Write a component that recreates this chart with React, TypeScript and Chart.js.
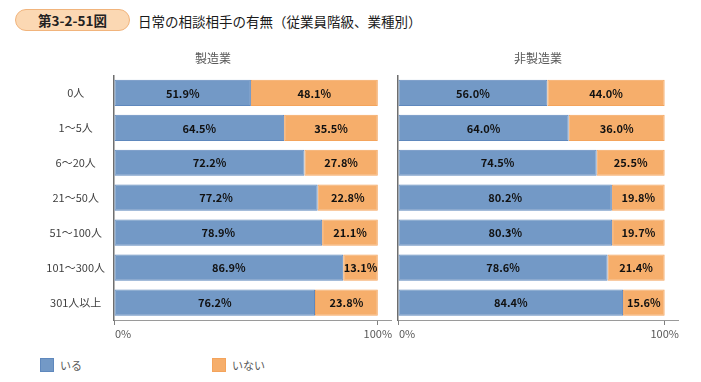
import React, { useEffect, useRef } from "react";
import { Chart, registerables } from "chart.js";

Chart.register(...registerables);

const FONT = "'Noto Sans CJK JP', 'Noto Sans', sans-serif";

const categories = ["0人", "1～5人", "6～20人", "21～50人", "51～100人", "101～300人", "301人以上"];
const seriesNames = ["いる", "いない"];
const seriesColors = ["#7399c6", "#f6ae6b"];
const seriesBorders = ["#5f88bd", "#f4a45c"];

const mfgYes = [51.9, 64.5, 72.2, 77.2, 78.9, 86.9, 76.2];
const mfgNo = [48.1, 35.5, 27.8, 22.8, 21.1, 13.1, 23.8];
const nonMfgYes = [56.0, 64.0, 74.5, 80.2, 80.3, 78.6, 84.4];
const nonMfgNo = [44.0, 36.0, 25.5, 19.8, 19.7, 21.4, 15.6];

const xTickValues = [0, 100];
const xTickLabels = ["0%", "100%"];

const panelTitles = ["製造業", "非製造業"];

const labelPlugin = {
  id: "segLabels",
  afterDatasetsDraw(chart: any) {
    const ctx = chart.ctx;
    ctx.save();
    ctx.font = `bold 11px ${FONT}`;
    ctx.fillStyle = "#111";
    ctx.textAlign = "center";
    ctx.textBaseline = "middle";
    chart.data.datasets.forEach((ds: any, di: number) => {
      const meta = chart.getDatasetMeta(di);
      meta.data.forEach((bar: any, i: number) => {
        const v = ds.data[i];
        const cx = (bar.x + bar.base) / 2;
        ctx.fillText(v.toFixed(1) + "%", cx, bar.y + 0.5);
      });
    });
    ctx.restore();
  },
};

const xLabelPlugin = {
  id: "xLabels",
  afterDraw(chart: any) {
    const ctx = chart.ctx;
    const xs = chart.scales.x;
    const bottom = chart.chartArea.bottom;
    ctx.save();
    ctx.font = `11px ${FONT}`;
    ctx.fillStyle = "#595959";
    ctx.textBaseline = "middle";
    xTickValues.forEach((v, i) => {
      const px = xs.getPixelForValue(v);
      if (i === 0) {
        ctx.textAlign = "left";
        ctx.fillText(xTickLabels[i], px + 1, bottom + 14);
      } else {
        ctx.textAlign = "center";
        ctx.fillText(xTickLabels[i], px, bottom + 14);
      }
    });
    ctx.restore();
  },
};

function makeConfig(yes: number[], no: number[], title: string, showY: boolean, padLeft: number, padRight: number): any {
  return {
    type: "bar",
    data: {
      labels: categories,
      datasets: [
        { label: seriesNames[0], data: yes, backgroundColor: seriesColors[0], borderColor: seriesBorders[0], borderWidth: 1, borderSkipped: false },
        { label: seriesNames[1], data: no, backgroundColor: seriesColors[1], borderColor: seriesBorders[1], borderWidth: 1, borderSkipped: false },
      ],
    },
    options: {
      indexAxis: "y",
      animation: false,
      responsive: false,
      maintainAspectRatio: false,
      datasets: { bar: { categoryPercentage: 1, barPercentage: 0.75 } },
      layout: { padding: { left: padLeft, right: padRight, top: 0, bottom: 0 } },
      plugins: {
        legend: { display: false },
        tooltip: { enabled: false },
        title: {
          display: true,
          text: title,
          color: "#595959",
          font: { family: FONT, size: 12, weight: "normal" },
          padding: { top: 11, bottom: 10 },
        },
      },
      scales: {
        x: {
          stacked: true,
          min: 0,
          max: 105,
          afterBuildTicks: (s: any) => {
            s.ticks = xTickValues.map((v) => ({ value: v }));
          },
          afterFit: (s: any) => {
            s.height = 20;
          },
          ticks: { display: false },
          grid: { drawOnChartArea: false, drawTicks: true, tickLength: 5, color: "#7f7f7f", lineWidth: 1 },
          border: { display: true, color: "#9a9a9a", width: 1 },
        },
        y: {
          stacked: true,
          afterFit: (s: any) => {
            s.width = showY ? 79 : 0;
          },
          ticks: {
            display: showY,
            crossAlign: "center",
            padding: 9,
            color: "#404040",
            font: { family: FONT, size: 11 },
          },
          grid: { display: false, drawTicks: false },
          border: { display: true, color: "#6e6e6e", width: 1.5 },
        },
      },
    },
    plugins: [labelPlugin, xLabelPlugin],
  };
}

function Panel(props: { yes: number[]; no: number[]; title: string; showY: boolean; left: number; width: number; padLeft: number; padRight: number }) {
  const ref = useRef<HTMLCanvasElement | null>(null);
  useEffect(() => {
    if (!ref.current) return;
    const chart = new Chart(ref.current, makeConfig(props.yes, props.no, props.title, props.showY, props.padLeft, props.padRight));
    return () => chart.destroy();
  }, []);
  return (
    <div style={{ position: "absolute", left: props.left, top: 40, width: props.width, height: 300 }}>
      <canvas ref={ref} width={props.width} height={300} style={{ width: props.width, height: 300, display: "block" }} />
    </div>
  );
}

export default function App() {
  return (
    <div style={{ position: "absolute", left: 0, top: 0, width: 701, height: 382, background: "#fff", fontFamily: FONT, overflow: "hidden" }}>
      <div
        style={{
          position: "absolute",
          left: 15,
          top: 9,
          width: 113,
          height: 20,
          borderRadius: 11,
          background: "#fbd8b3",
          border: "1px solid #f1b47c",
          display: "flex",
          alignItems: "center",
          justifyContent: "center",
          fontSize: 13.5,
          fontWeight: "bold",
          color: "#222",
        }}
      >
        第3-2-51図
      </div>
      <div style={{ position: "absolute", left: 138, top: 10, height: 22, display: "flex", alignItems: "center", fontSize: 13.5, color: "#1a1a1a" }}>
        日常の相談相手の有無（従業員階級、業種別）
      </div>
      <Panel yes={mfgYes} no={mfgNo} title={panelTitles[0]} showY={true} left={35} width={360} padLeft={0} padRight={4} />
      <Panel yes={nonMfgYes} no={nonMfgNo} title={panelTitles[1]} showY={false} left={395} width={288} padLeft={3} padRight={5} />
      {seriesNames.map((n, i) => (
        <div key={n} style={{ position: "absolute", left: i === 0 ? 40 : 212, top: 358, height: 14, display: "flex", alignItems: "center" }}>
          <div style={{ width: 12, height: 12, background: seriesColors[i], border: `1px solid ${seriesBorders[i]}` }} />
          <span style={{ marginLeft: 6, fontSize: 11, color: "#595959" }}>{n}</span>
        </div>
      ))}
    </div>
  );
}
